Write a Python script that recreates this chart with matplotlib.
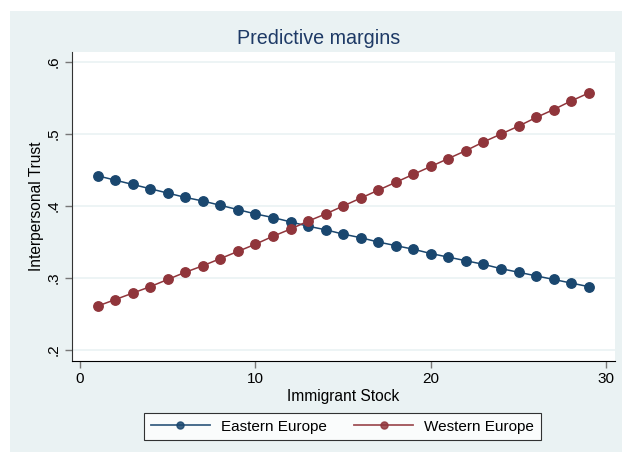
import matplotlib
matplotlib.use("Agg")
import matplotlib.pyplot as plt

# immigrant stock values and predicted trust
stock = list(range(1, 30))
eastern = [0.442, 0.436, 0.430, 0.424, 0.418, 0.412, 0.407, 0.401, 0.395, 0.389,
           0.384, 0.378, 0.372, 0.367, 0.361, 0.356, 0.350, 0.345, 0.340, 0.334,
           0.329, 0.324, 0.319, 0.313, 0.308, 0.303, 0.298, 0.293, 0.288]
western = [0.261, 0.270, 0.279, 0.288, 0.298, 0.308, 0.317, 0.327, 0.337, 0.347,
           0.358, 0.368, 0.379, 0.389, 0.400, 0.411, 0.422, 0.433, 0.444, 0.455,
           0.466, 0.477, 0.489, 0.500, 0.511, 0.523, 0.534, 0.546, 0.557]
xticks = [0, 10, 20, 30]
yticks = [0.2, 0.3, 0.4, 0.5, 0.6]
ylabels = [".2", ".3", ".4", ".5", ".6"]

navy = "#1A476F"
maroon = "#90353B"
bluegray = "#EAF2F3"

plt.rcParams["font.family"] = ["Liberation Sans", "DejaVu Sans"]

W, H = 622, 453
fig = plt.figure(figsize=(W / 100, H / 100), dpi=100, facecolor="white")

# graph region (light bluish gray), drawn as a background axes
bg = fig.add_axes([10 / W, 1 / H, 612 / W, 441 / H], zorder=-1)
bg.set_facecolor(bluegray)
bg.set_xticks([])
bg.set_yticks([])
for s in bg.spines.values():
    s.set_visible(False)

ax = fig.add_axes([72 / W, (H - 361) / H, (615 - 72) / W, (361 - 52) / H])
ax.set_facecolor("white")

ax.plot(stock, eastern, color=navy, lw=1.1, marker="o", ms=6.8, label="Eastern Europe", zorder=3)
ax.plot(stock, western, color=maroon, lw=1.1, marker="o", ms=6.8, label="Western Europe", zorder=3)

ax.set_xlim(-0.46, 30.5)
ax.set_ylim(0.1847, 0.614)
ax.set_xticks(xticks)
ax.set_xticklabels([str(t) for t in xticks], fontsize=11)
ax.set_yticks(yticks)
ax.set_yticklabels(ylabels, fontsize=11, rotation=90, va="center")
ax.grid(axis="y", color=bluegray, lw=1.2)
ax.set_axisbelow(True)

for s in ["top", "right"]:
    ax.spines[s].set_visible(False)
ax.spines["left"].set_color("#333333")
ax.spines["bottom"].set_color("black")
ax.tick_params(direction="out", length=5, color="#777777", width=1, pad=3)

ax.set_xlabel("Immigrant Stock", fontsize=11.2, labelpad=2)
ax.set_ylabel("Interpersonal Trust", fontsize=11.2, labelpad=2)

fig.text(319 / W, 1 - 38 / H, "Predictive margins", ha="center", va="center",
         fontsize=14.2, color="#1E3A66")

leg = fig.legend(loc="center", bbox_to_anchor=(342.5 / W, 1 - 426.5 / H), ncol=2,
                 fontsize=11, frameon=True, fancybox=False, handlelength=3.86,
                 handletextpad=0.72, columnspacing=1.83, borderpad=0.45,
                 borderaxespad=0, markerscale=0.75)
leg.get_frame().set_edgecolor("black")
leg.get_frame().set_linewidth(0.8)
for line in leg.get_lines():
    line.set_linewidth(1.3)
    line.set_alpha(0.85)

fig.savefig("out.png", dpi=100, facecolor="white")
